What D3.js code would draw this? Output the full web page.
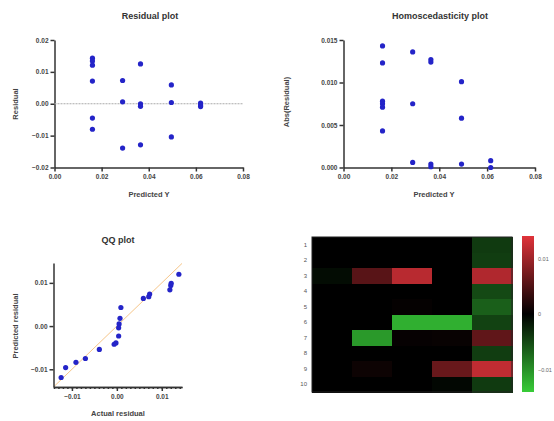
<!DOCTYPE html>
<html>
<head>
<meta charset="utf-8">
<script src="https://cdn.jsdelivr.net/npm/d3@7"></script>
<style>
  body { margin: 0; background: #fff; }
  svg { font-family: "Liberation Sans", Arial, sans-serif; }
  .ttl { font-size: 9px; font-weight: bold; fill: #333; }
  .lbl { font-size: 7.5px; font-weight: bold; fill: #444; }
  .ax path, .ax line { stroke: #333; stroke-width: 1.5; }
  .ax text { font-size: 6.5px; font-weight: bold; fill: #444; }
</style>
</head>
<body>
<svg width="554" height="421"></svg>
<script>
// residual plot (predicted Y, residual)
const resX = [0.0161, 0.0161, 0.0161, 0.0161, 0.0161, 0.0161,
              0.0289, 0.0289, 0.0289,
              0.0365, 0.0365, 0.0365, 0.0365,
              0.0496, 0.0496, 0.0496,
              0.0620, 0.0620, 0.0620];
const resY = [0.0143, 0.0134, 0.0121, 0.0071, -0.0045, -0.0080,
              0.0073, 0.0006, -0.0139,
              0.0125, 0.0000, -0.0008, -0.0129,
              0.0059, 0.0004, -0.0104,
              0.0002, -0.0004, -0.0009];

// homoscedasticity plot (predicted Y, abs residual)
const homX = [0.0163, 0.0163, 0.0163, 0.0163, 0.0163, 0.0163,
              0.0289, 0.0289, 0.0289,
              0.0365, 0.0365, 0.0365, 0.0365,
              0.0493, 0.0493, 0.0493,
              0.0615, 0.0615];
const homY = [0.0143, 0.0123, 0.0078, 0.0075, 0.0071, 0.0043,
              0.0136, 0.0075, 0.0006,
              0.0127, 0.0124, 0.0004, 0.0001,
              0.0101, 0.0058, 0.0004,
              0.0008, 0.0000];

// QQ plot (actual residual, predicted residual)
const qqX = [-0.0124, -0.0114, -0.0091, -0.0070, -0.0039, -0.0006, -0.0002, 0.0004, 0.0004,
             0.0005, 0.0007, 0.0009, 0.0059, 0.0071, 0.0073, 0.0118, 0.0120, 0.0121, 0.0138];
const qqY = [-0.0119, -0.0096, -0.0084, -0.0075, -0.0054, -0.0042, -0.0039, -0.0023, -0.0004,
             0.0005, 0.0018, 0.0043, 0.0064, 0.0068, 0.0074, 0.0084, 0.0094, 0.0099, 0.0120];

// heatmap: rows 1..10, 5 columns
const rowLabels = ["1", "2", "3", "4", "5", "6", "7", "8", "9", "10"];
const heat = [
  [0, 0, 0, 0, -0.0040],
  [0, 0, 0, 0, -0.0042],
  [-0.0008, 0.0055, 0.0115, 0, 0.0110],
  [0, 0, 0, 0, -0.0050],
  [0, 0, 0.0003, 0, -0.0065],
  [0, 0, -0.0120, -0.0120, -0.0045],
  [0, -0.0105, 0.0004, 0.0005, 0.0060],
  [0, 0, 0, 0, -0.0042],
  [0, 0.0008, 0, 0.0065, 0.0120],
  [0, 0, 0, -0.0005, -0.0040]
];
const cbTicks = [0.01, 0, -0.01];

const svg = d3.select("svg");
const ptColor = "#2424c8";

function fmt2(d) { return d3.format(".2f")(d); }

// ---------- Residual plot ----------
var rx = d3.scaleLinear().domain([0, 0.08]).range([54.5, 243]);
var ry = d3.scaleLinear().domain([-0.02, 0.02]).range([167.5, 40]);

svg.append("g").attr("class", "ax").attr("transform", "translate(0,167.5)")
  .call(d3.axisBottom(rx).tickValues([0, 0.02, 0.04, 0.06, 0.08]).tickFormat(fmt2).tickSize(4).tickPadding(3).tickSizeOuter(0));
svg.append("g").attr("class", "ax").attr("transform", "translate(54.5,0)")
  .call(d3.axisLeft(ry).tickValues([-0.02, -0.01, 0, 0.01, 0.02]).tickFormat(fmt2).tickSize(4).tickPadding(2).tickSizeOuter(0));

svg.append("line")
  .attr("x1", rx(0)).attr("x2", rx(0.08))
  .attr("y1", ry(0)).attr("y2", ry(0))
  .attr("stroke", "#aaa").attr("stroke-width", 1).attr("stroke-dasharray", "2,1");

svg.append("g").selectAll("circle").data(resX).enter().append("circle")
  .attr("cx", (d) => rx(d)).attr("cy", (d, i) => ry(resY[i]))
  .attr("r", 2.6).attr("fill", ptColor);

svg.append("text").attr("class", "ttl").attr("x", 150).attr("y", 19).attr("text-anchor", "middle").text("Residual plot");
svg.append("text").attr("class", "lbl").attr("x", 149).attr("y", 197).attr("text-anchor", "middle").text("Predicted Y");
svg.append("text").attr("class", "lbl").attr("text-anchor", "middle")
  .attr("transform", "translate(18,104) rotate(-90)").text("Residual");

// ---------- Homoscedasticity plot ----------
var hx = d3.scaleLinear().domain([0, 0.08]).range([343.5, 535]);
var hy = d3.scaleLinear().domain([0, 0.015]).range([167.5, 40]);

svg.append("g").attr("class", "ax").attr("transform", "translate(0,167.5)")
  .call(d3.axisBottom(hx).tickValues([0, 0.02, 0.04, 0.06, 0.08]).tickFormat(fmt2).tickSize(4).tickPadding(3).tickSizeOuter(0));
svg.append("g").attr("class", "ax").attr("transform", "translate(343.5,0)")
  .call(d3.axisLeft(hy).tickValues([0, 0.005, 0.010, 0.015]).tickFormat(d3.format(".3f")).tickSize(4).tickPadding(2).tickSizeOuter(0));

svg.append("g").selectAll("circle").data(homX).enter().append("circle")
  .attr("cx", (d) => hx(d)).attr("cy", (d, i) => hy(homY[i]))
  .attr("r", 2.6).attr("fill", ptColor);

svg.append("text").attr("class", "ttl").attr("x", 440).attr("y", 19).attr("text-anchor", "middle").text("Homoscedasticity plot");
svg.append("text").attr("class", "lbl").attr("x", 434).attr("y", 197).attr("text-anchor", "middle").text("Predicted Y");
svg.append("text").attr("class", "lbl").attr("text-anchor", "middle")
  .attr("transform", "translate(289,102) rotate(-90)").text("Abs(Residual)");

// ---------- QQ plot ----------
var qx = d3.scaleLinear().domain([-0.0141, 0.0145]).range([53.5, 182]);
var qy = d3.scaleLinear().domain([-0.0141, 0.0146]).range([387, 263]);

svg.append("line")
  .attr("x1", qx(-0.0141)).attr("y1", qy(-0.0141))
  .attr("x2", qx(0.0145)).attr("y2", qy(0.0145))
  .attr("stroke", "#f6c68a").attr("stroke-width", 1);

// minor ticks on x axis
svg.append("g").attr("class", "ax").attr("transform", "translate(0,387)")
  .call(d3.axisBottom(qx).tickValues(d3.range(-14, 15).map((d) => d / 1000)).tickFormat("").tickSize(2).tickSizeOuter(0));
svg.append("g").attr("class", "ax").attr("transform", "translate(0,387)")
  .call(d3.axisBottom(qx).tickValues([-0.01, 0, 0.01]).tickFormat(fmt2).tickSize(4).tickPadding(3).tickSizeOuter(0));
svg.append("g").attr("class", "ax").attr("transform", "translate(53.5,0)")
  .call(d3.axisLeft(qy).tickValues([-0.01, 0, 0.01]).tickFormat(fmt2).tickSize(4).tickPadding(2).tickSizeOuter(0));

svg.append("g").selectAll("circle").data(qqX).enter().append("circle")
  .attr("cx", (d) => qx(d)).attr("cy", (d, i) => qy(qqY[i]))
  .attr("r", 2.6).attr("fill", ptColor);

svg.append("text").attr("class", "ttl").attr("x", 118).attr("y", 243).attr("text-anchor", "middle").text("QQ plot");
svg.append("text").attr("class", "lbl").attr("x", 118).attr("y", 416).attr("text-anchor", "middle").text("Actual residual");
svg.append("text").attr("class", "lbl").attr("text-anchor", "middle")
  .attr("transform", "translate(18,326) rotate(-90)").text("Predicted residual");

// ---------- Heatmap ----------
var colors = d3.scaleLinear().domain([-0.014, 0, 0.014])
  .range(["#38cc38", "#000000", "#e0333a"]).clamp(true);
var hmx = d3.scaleBand().domain(d3.range(5)).range([312, 512]);
var hmy = d3.scaleBand().domain(rowLabels).range([237, 392]);

var rows = svg.append("g").attr("shape-rendering", "crispEdges")
  .selectAll("g").data(heat).enter().append("g")
  .attr("transform", (d, i) => `translate(0,${hmy(rowLabels[i])})`);
rows.selectAll("rect").data((d) => d).enter().append("rect")
  .attr("x", (d, j) => hmx(j)).attr("y", 0)
  .attr("width", hmx.bandwidth() + 0.5).attr("height", hmy.bandwidth() + 0.5)
  .attr("fill", (d) => colors(d));

svg.append("rect").attr("x", 312).attr("y", 237).attr("width", 200).attr("height", 155)
  .attr("fill", "none").attr("stroke", "#222").attr("stroke-width", 1);

var rl = svg.append("g").attr("transform", "translate(312,0)")
  .call(d3.axisLeft(hmy).tickSize(0).tickPadding(5));
rl.select(".domain").remove();
rl.selectAll("text").attr("font-size", "6px").attr("fill", "#555");

// colorbar
var cby = d3.scaleLinear().domain([-0.014, 0.014]).range([392, 236]);
var defs = svg.append("defs");
var grad = defs.append("linearGradient").attr("id", "cb").attr("x1", 0).attr("x2", 0).attr("y1", 1).attr("y2", 0);
grad.selectAll("stop").data([-0.014, 0, 0.014]).enter().append("stop")
  .attr("offset", (d, i) => i / 2).attr("stop-color", (d) => colors(d));
svg.append("rect").attr("x", 522).attr("y", cby(0.014)).attr("width", 12)
  .attr("height", cby(-0.014) - cby(0.014)).attr("fill", "url(#cb)");

var cbAx = svg.append("g").attr("transform", "translate(535,0)")
  .call(d3.axisRight(cby).tickValues(cbTicks).tickFormat((d) => d === 0 ? "0" : d3.format(".2f")(d)).tickSize(0).tickPadding(3));
cbAx.select(".domain").remove();
cbAx.selectAll("text").attr("font-size", "5.5px").attr("fill", "#666");
</script>
</body>
</html>
